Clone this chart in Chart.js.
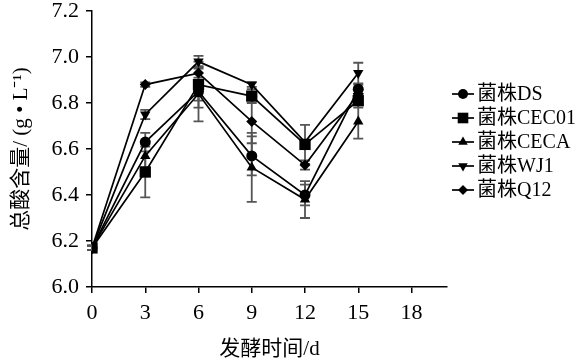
<!DOCTYPE html>
<html>
<head>
<meta charset="utf-8">
<script src="https://cdn.jsdelivr.net/npm/chart.js@4/dist/chart.umd.min.js"></script>
<style>
  html, body { margin: 0; padding: 0; background: #fff; }
  #wrap { width: 586px; height: 363px; }
</style>
</head>
<body>
<div id="wrap"><canvas id="chart" width="586" height="363"></canvas></div>
<script>
// 发酵时间 (d)
const dias = [0, 3, 6, 9, 12, 15];

// 总酸含量 (g/L)
const serieDS    = [6.17, 6.63, 6.85, 6.57, 6.40, 6.86];
const serieCEC01 = [6.17, 6.50, 6.88, 6.83, 6.62, 6.81];
const serieCECA  = [6.17, 6.57, 6.84, 6.52, 6.38, 6.72];
const serieWJ1   = [6.17, 6.75, 6.98, 6.88, 6.63, 6.93];
const serieQ12   = [6.17, 6.88, 6.93, 6.72, 6.53, 6.84];

// Barras de error (desviacion)
const errDS    = [0.01, 0.04, 0.04, 0.085, 0.045, 0.02];
const errCEC01 = [0.01, 0.11, 0.10, 0.03, 0.085, 0.03];
const errCECA  = [0.01, 0.05, 0.12, 0.15, 0.08, 0.075];
const errWJ1   = [0.01, 0.02, 0.025, 0.01, 0.01, 0.045];
const errQ12   = [0.01, 0.01, 0.02, 0.095, 0.02, 0.02];

const nombres = ["菌株DS", "菌株CEC01", "菌株CECA", "菌株WJ1", "菌株Q12"];
const yTicks = [6.0, 6.2, 6.4, 6.6, 6.8, 7.0, 7.2];
const xTicks = [0, 3, 6, 9, 12, 15, 18];

const FUENTE = "'Liberation Serif', 'Noto Sans CJK SC', serif";

const estilos = [
  { pointStyle: "circle",   radius: 5.5, rotation: 0 },
  { pointStyle: "rect",     radius: 8, rotation: 0 },
  { pointStyle: "triangle", radius: 6, rotation: 0 },
  { pointStyle: "triangle", radius: 6, rotation: 180 },
  { pointStyle: "rectRot",  radius: 5.5, rotation: 0 }
];

const series = [serieDS, serieCEC01, serieCECA, serieWJ1, serieQ12];
const errores = [errDS, errCEC01, errCECA, errWJ1, errQ12];

const datasets = series.map((s, k) => ({
  label: nombres[k],
  data: dias.map((d, i) => ({ x: d, y: s[i] })),
  errores: errores[k],
  borderColor: "#000",
  backgroundColor: "#000",
  borderWidth: 1.7,
  pointStyle: estilos[k].pointStyle,
  pointRadius: estilos[k].radius,
  pointRotation: estilos[k].rotation,
  pointBorderWidth: 0,
  pointBackgroundColor: "#000",
  tension: 0
}));

// Barras de error dibujadas antes de las series.
const barrasError = {
  id: "barrasError",
  beforeDatasetsDraw(chart) {
    const ctx = chart.ctx;
    const ys = chart.scales.y;
    ctx.save();
    ctx.strokeStyle = "#555";
    ctx.lineWidth = 1.8;
    chart.data.datasets.forEach((ds, k) => {
      const meta = chart.getDatasetMeta(k);
      meta.data.forEach((pt, i) => {
        const v = ds.data[i].y, e = ds.errores[i];
        const y1 = ys.getPixelForValue(v - e), y2 = ys.getPixelForValue(v + e);
        ctx.beginPath();
        ctx.moveTo(pt.x, y1); ctx.lineTo(pt.x, y2);
        ctx.moveTo(pt.x - 5, y1); ctx.lineTo(pt.x + 5, y1);
        ctx.moveTo(pt.x - 5, y2); ctx.lineTo(pt.x + 5, y2);
        ctx.stroke();
      });
    });
    ctx.restore();
  }
};

// Leyenda a la derecha: linea con marcador.
const leyenda = {
  id: "leyenda",
  afterDraw(chart) {
    const ctx = chart.ctx;
    ctx.save();
    ctx.font = "20px " + FUENTE;
    ctx.textBaseline = "middle";
    chart.data.datasets.forEach((ds, k) => {
      const y = 94 + k * 24;
      ctx.strokeStyle = "#000";
      ctx.lineWidth = 1.7;
      ctx.beginPath();
      ctx.moveTo(452, y); ctx.lineTo(474, y);
      ctx.stroke();
      ctx.fillStyle = "#000";
      Chart.helpers.drawPoint(ctx, {
        pointStyle: estilos[k].pointStyle,
        radius: estilos[k].radius - 0.5,
        rotation: estilos[k].rotation,
        borderWidth: 0
      }, 463, y);
      ctx.fillText(ds.label, 477, y + 1);
    });
    ctx.restore();
  }
};

new Chart(document.getElementById("chart"), {
  type: "line",
  data: { datasets },
  plugins: [barrasError, leyenda],
  options: {
    responsive: false,
    animation: false,
    layout: { padding: { left: 0, right: 139, top: 11, bottom: 0 } },
    plugins: { legend: { display: false }, tooltip: { enabled: false } },
    scales: {
      x: {
        type: "linear",
        min: 0, max: 20,
        afterFit: s => { s.height = 76; s.paddingLeft = 0; s.paddingRight = 0; },
        afterBuildTicks: s => { s.ticks = xTicks.map(v => ({ value: v })); },
        border: { color: "#000", width: 1.5 },
        grid: { drawOnChartArea: false, drawTicks: true, tickLength: 6, color: "#000", lineWidth: 1.5 },
        ticks: { color: "#000", font: { family: FUENTE, size: 22 }, padding: 7, maxRotation: 0 },
        title: { display: true, text: "发酵时间/d", color: "#000",
                 font: { family: FUENTE, size: 21 }, padding: { top: 0, bottom: 1 } }
      },
      y: {
        min: 6.0, max: 7.2,
        afterFit: s => { s.width = 92; s.paddingTop = 0; s.paddingBottom = 0; },
        afterBuildTicks: s => { s.ticks = yTicks.map(v => ({ value: v })); },
        border: { color: "#000", width: 1.5 },
        grid: { drawOnChartArea: false, drawTicks: true, tickLength: 6, color: "#000", lineWidth: 1.5 },
        ticks: { color: "#000", font: { family: FUENTE, size: 22 }, padding: 7,
                 callback: v => v.toFixed(1) },
        title: { display: true, text: "总酸含量/ (g • L⁻¹)", color: "#000",
                 font: { family: FUENTE, size: 21 }, padding: { top: 9, bottom: 0 } }
      }
    }
  }
});
</script>
</body>
</html>
